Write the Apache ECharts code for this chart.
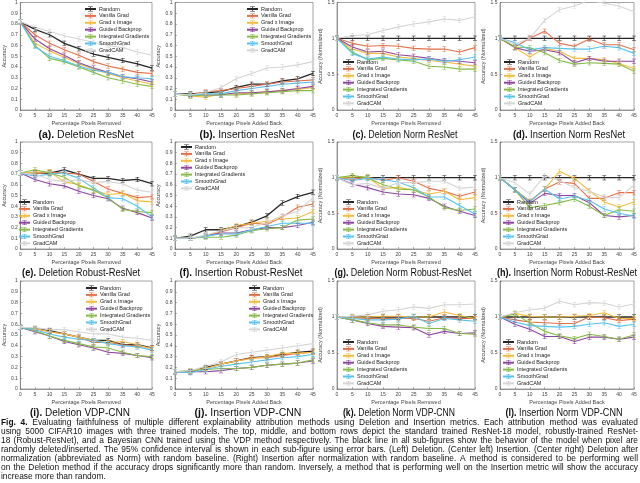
<!DOCTYPE html>
<html>
<head>
<meta charset="utf-8">
<script src="https://cdn.jsdelivr.net/npm/echarts@6/dist/echarts.min.js"></script>
<style>html,body{margin:0;padding:0;background:#fff}#c{width:640px;height:483px}</style>
</head>
<body>
<div id="c"></div>
<script>
// ---------- data ----------
const xTicks = [0, 5, 10, 15, 20, 25, 30, 35, 40, 45];
const seriesNames = ['Random', 'Vanilla Grad', 'Grad x Image', 'Guided Backprop', 'Integrated Gradients', 'SmoothGrad', 'GradCAM'];

// order of rows in each panel follows seriesNames
const delResNet = [
  [0.82, 0.75, 0.70, 0.62, 0.57, 0.52, 0.49, 0.46, 0.43, 0.39],
  [0.82, 0.70, 0.62, 0.56, 0.51, 0.45, 0.41, 0.38, 0.35, 0.34],
  [0.82, 0.62, 0.55, 0.49, 0.43, 0.38, 0.34, 0.30, 0.27, 0.24],
  [0.82, 0.66, 0.57, 0.51, 0.44, 0.39, 0.35, 0.31, 0.29, 0.26],
  [0.82, 0.60, 0.48, 0.45, 0.40, 0.35, 0.30, 0.27, 0.24, 0.22],
  [0.82, 0.59, 0.50, 0.46, 0.41, 0.37, 0.35, 0.31, 0.30, 0.29],
  [0.82, 0.77, 0.73, 0.69, 0.66, 0.63, 0.60, 0.58, 0.54, 0.51]
];
const insResNet = [
  [0.15, 0.15, 0.16, 0.17, 0.21, 0.24, 0.24, 0.27, 0.29, 0.34],
  [0.15, 0.14, 0.17, 0.18, 0.20, 0.22, 0.24, 0.26, 0.27, 0.28],
  [0.15, 0.13, 0.12, 0.15, 0.15, 0.16, 0.17, 0.18, 0.19, 0.21],
  [0.15, 0.14, 0.14, 0.14, 0.16, 0.16, 0.17, 0.18, 0.20, 0.22],
  [0.15, 0.13, 0.14, 0.14, 0.14, 0.15, 0.16, 0.17, 0.18, 0.18],
  [0.15, 0.14, 0.15, 0.15, 0.18, 0.20, 0.22, 0.24, 0.25, 0.26],
  [0.15, 0.14, 0.16, 0.21, 0.29, 0.34, 0.39, 0.40, 0.42, 0.45]
];
const delNormResNet = [
  [1, 1, 1, 1, 1, 1, 1, 1, 1, 1],
  [1, 0.93, 0.89, 0.90, 0.89, 0.86, 0.85, 0.85, 0.81, 0.87],
  [1, 0.85, 0.79, 0.79, 0.74, 0.72, 0.69, 0.67, 0.64, 0.61],
  [1, 0.88, 0.81, 0.82, 0.77, 0.75, 0.72, 0.69, 0.68, 0.66],
  [1, 0.81, 0.70, 0.72, 0.70, 0.68, 0.61, 0.60, 0.57, 0.57],
  [1, 0.79, 0.71, 0.74, 0.71, 0.70, 0.71, 0.68, 0.70, 0.74],
  [1, 1.04, 1.05, 1.11, 1.16, 1.20, 1.23, 1.27, 1.25, 1.30]
];
const insNormResNet = [
  [1, 1, 1, 1, 1, 1, 1, 1, 1, 1],
  [1, 0.88, 1.00, 1.10, 0.93, 0.89, 0.99, 0.91, 0.91, 0.84],
  [1, 0.87, 0.74, 0.86, 0.82, 0.72, 0.72, 0.70, 0.65, 0.58],
  [1, 0.87, 0.82, 0.84, 0.80, 0.66, 0.72, 0.68, 0.68, 0.68],
  [1, 0.88, 0.87, 0.80, 0.69, 0.64, 0.66, 0.65, 0.64, 0.54],
  [1, 0.94, 0.84, 0.87, 0.86, 0.85, 0.85, 0.89, 0.87, 0.79],
  [1, 0.92, 1.00, 1.25, 1.40, 1.45, 1.53, 1.49, 1.45, 1.37]
];
const delRobust = [
  [0.71, 0.71, 0.71, 0.74, 0.70, 0.66, 0.66, 0.64, 0.65, 0.61],
  [0.71, 0.70, 0.72, 0.71, 0.70, 0.63, 0.56, 0.52, 0.48, 0.49],
  [0.71, 0.72, 0.72, 0.63, 0.60, 0.55, 0.51, 0.52, 0.45, 0.44],
  [0.71, 0.65, 0.61, 0.59, 0.54, 0.50, 0.47, 0.38, 0.34, 0.29],
  [0.71, 0.74, 0.71, 0.67, 0.59, 0.55, 0.48, 0.37, 0.35, 0.34],
  [0.71, 0.68, 0.70, 0.71, 0.66, 0.57, 0.48, 0.47, 0.40, 0.30],
  [0.71, 0.70, 0.65, 0.63, 0.65, 0.62, 0.63, 0.61, 0.55, 0.53]
];
const insRobust = [
  [0.10, 0.12, 0.18, 0.18, 0.21, 0.25, 0.31, 0.43, 0.49, 0.53],
  [0.10, 0.10, 0.12, 0.16, 0.20, 0.24, 0.23, 0.30, 0.39, 0.42],
  [0.10, 0.10, 0.12, 0.17, 0.22, 0.24, 0.26, 0.28, 0.29, 0.35],
  [0.10, 0.10, 0.12, 0.15, 0.15, 0.18, 0.20, 0.20, 0.22, 0.25],
  [0.10, 0.10, 0.11, 0.11, 0.13, 0.17, 0.19, 0.20, 0.27, 0.28],
  [0.10, 0.10, 0.12, 0.14, 0.14, 0.18, 0.21, 0.24, 0.24, 0.24],
  [0.10, 0.10, 0.13, 0.17, 0.20, 0.20, 0.25, 0.31, 0.35, 0.48]
];
const delNormRobust = [
  [1, 1, 1, 1, 1, 1, 1, 1, 1, 1],
  [1, 0.97, 1.01, 0.96, 1.00, 0.95, 0.85, 0.81, 0.74, 0.80],
  [1, 1.01, 1.01, 0.85, 0.86, 0.83, 0.77, 0.81, 0.69, 0.72],
  [1, 0.91, 0.86, 0.80, 0.77, 0.76, 0.71, 0.60, 0.53, 0.47],
  [1, 1.03, 1.00, 0.90, 0.84, 0.83, 0.73, 0.58, 0.54, 0.56],
  [1, 0.96, 0.99, 0.97, 0.94, 0.86, 0.73, 0.73, 0.61, 0.49],
  [1, 0.90, 0.92, 0.85, 0.93, 0.93, 0.95, 0.95, 0.85, 0.87]
];
const insNormRobust = [
  [1, 1, 1, 1, 1, 1, 1, 1, 1, 1],
  [1, 0.83, 0.67, 0.84, 0.94, 0.92, 0.71, 0.71, 0.79, 0.79],
  [1, 0.83, 0.67, 0.84, 1.09, 0.99, 0.82, 0.66, 0.59, 0.66],
  [1, 0.83, 0.64, 0.78, 0.75, 0.75, 0.65, 0.47, 0.45, 0.47],
  [1, 0.83, 0.58, 0.61, 0.65, 0.70, 0.60, 0.47, 0.55, 0.53],
  [1, 0.83, 0.66, 0.84, 0.70, 0.74, 0.68, 0.56, 0.50, 0.46],
  [1, 0.93, 0.77, 1.03, 0.96, 0.86, 0.81, 0.73, 0.72, 0.90]
];
const delVDP = [
  [0.57, 0.56, 0.54, 0.51, 0.48, 0.45, 0.45, 0.41, 0.41, 0.38],
  [0.57, 0.56, 0.53, 0.51, 0.48, 0.43, 0.43, 0.41, 0.40, 0.38],
  [0.57, 0.56, 0.53, 0.51, 0.48, 0.45, 0.43, 0.44, 0.41, 0.37],
  [0.57, 0.53, 0.49, 0.44, 0.41, 0.38, 0.34, 0.33, 0.31, 0.29],
  [0.57, 0.54, 0.49, 0.45, 0.42, 0.39, 0.38, 0.34, 0.31, 0.30],
  [0.57, 0.55, 0.51, 0.48, 0.46, 0.45, 0.42, 0.40, 0.39, 0.36],
  [0.57, 0.57, 0.55, 0.55, 0.53, 0.51, 0.51, 0.48, 0.47, 0.45]
];
const insVDP = [
  [0.16, 0.16, 0.20, 0.23, 0.26, 0.29, 0.30, 0.32, 0.34, 0.35],
  [0.16, 0.16, 0.19, 0.23, 0.26, 0.29, 0.29, 0.31, 0.33, 0.34],
  [0.16, 0.17, 0.19, 0.23, 0.26, 0.28, 0.30, 0.33, 0.33, 0.34],
  [0.16, 0.16, 0.16, 0.17, 0.19, 0.20, 0.22, 0.23, 0.24, 0.26],
  [0.16, 0.17, 0.18, 0.19, 0.19, 0.20, 0.22, 0.23, 0.24, 0.27],
  [0.16, 0.15, 0.18, 0.21, 0.23, 0.25, 0.27, 0.29, 0.30, 0.32],
  [0.16, 0.17, 0.21, 0.25, 0.32, 0.34, 0.36, 0.38, 0.40, 0.42]
];
const delNormVDP = [
  [1, 1, 1, 1, 1, 1, 1, 1, 1, 1],
  [1, 0.99, 0.98, 0.98, 0.98, 0.98, 0.94, 0.99, 0.98, 0.98],
  [1, 1.00, 1.00, 1.01, 1.01, 1.00, 1.00, 1.07, 1.02, 0.98],
  [1, 0.96, 0.91, 0.87, 0.86, 0.85, 0.75, 0.80, 0.77, 0.78],
  [1, 0.96, 0.92, 0.89, 0.89, 0.86, 0.84, 0.84, 0.77, 0.76],
  [1, 0.98, 0.96, 0.96, 0.97, 1.01, 0.91, 0.98, 0.96, 0.94],
  [1, 1.01, 1.03, 1.08, 1.10, 1.14, 1.12, 1.17, 1.17, 1.18]
];
const insNormVDP = [
  [1, 1, 1, 1, 1, 1, 1, 1, 1, 1],
  [1, 0.96, 0.93, 0.92, 0.91, 0.91, 1.00, 0.99, 0.95, 0.97],
  [1, 1.05, 1.01, 1.00, 1.00, 1.01, 1.02, 1.06, 0.98, 0.98],
  [1, 0.90, 0.83, 0.73, 0.73, 0.66, 0.72, 0.72, 0.69, 0.72],
  [1, 1.04, 0.92, 0.80, 0.74, 0.70, 0.76, 0.73, 0.69, 0.75],
  [1, 0.93, 0.88, 0.87, 0.86, 0.87, 0.90, 0.92, 0.87, 0.90],
  [1, 1.06, 1.10, 1.12, 1.22, 1.17, 1.20, 1.19, 1.14, 1.18]
];

const subCaptionTags = ['(a).', '(b).', '(c).', '(d).', '(e).', '(f).', '(g).', '(h).', '(i).', '(j).', '(k).', '(l).'];
const subCaptionTexts = ['Deletion ResNet', 'Insertion ResNet', 'Deletion Norm ResNet', 'Insertion Norm ResNet',
  'Deletion Robust-ResNet', 'Insertion Robust-ResNet', 'Deletion Norm Robust-ResNet', 'Insertion Norm Robust-ResNet',
  'Deletion VDP-CNN', 'Insertion VDP-CNN', 'Deletion Norm VDP-CNN', 'Insertion Norm VDP-CNN'];
const xNames = ['Percentage Pixels Removed', 'Percentage Pixels Added Back'];
const yNames = ['Accuracy', 'Accuracy (Normalized)'];

const captionLines = [
  'Fig. 4. Evaluating faithfulness of multiple different explainability attribution methods using Deletion and Insertion metrics. Each attribution method was evaluated',
  'using 5000 CIFAR10 images with three trained models. The top, middle, and bottom rows depict the standard trained ResNet-18 model, robustly-trained ResNet-',
  '18 (Robust-ResNet), and a Bayesian CNN trained using the VDP method respectively. The black line in all sub-figures show the behavior of the model when pixel are',
  'randomly deleted/inserted. The 95% confidence interval is shown in each sub-figure using error bars. (Left) Deletion. (Center left) Insertion. (Center right) Deletion after',
  'normalization (abbreviated as Norm) with random baseline. (Right) Insertion after normalization with random baseline. A method is considered to be performing well',
  'on the Deletion method if the accuracy drops significantly more than random. Inversely, a method that is performing well on the Insertion metric will show the accuracy',
  'increase more than random.'
];

// ---------- layout / style ----------
const FONT = '"Liberation Sans", Arial, Helvetica, sans-serif';
const colors = ['#262626', '#e2704a', '#f2bd3f', '#8e44a0', '#86bb45', '#56c3ef', '#d4d4d4'];
const colX = [[13, 152], [175, 313], [337, 475], [500, 634]];
const rowY = [[2, 110], [142, 249], [281, 389]];
const panels = [delResNet, insResNet, delNormResNet, insNormResNet,
  delRobust, insRobust, delNormRobust, insNormRobust,
  delVDP, insVDP, delNormVDP, insNormVDP];
const legendPos = [[84, 6], [246, 6], [342, 59], [503, 59],
  [18, 199], [180, 144], [342, 199], [502, 199],
  [85, 285], [248, 285], [342, 339], [502, 339]];
const yNameGap = [9, 10, 12, 13];
const errSymbol = 'path://M0,0H6V1H3.5V9H6V10H0V9H2.5V1H0Z';

const grids = [], xAxes = [], yAxes = [], series = [], legends = [], graphics = [];
panels.forEach((pdata, p) => {
  const r = Math.floor(p / 4), c = p % 4;
  const isNorm = c >= 2, isIns = c % 2 === 1;
  grids.push({ left: colX[c][0], top: rowY[r][0], width: colX[c][1] - colX[c][0], height: rowY[r][1] - rowY[r][0],
    show: true, borderColor: '#6a6a6a', borderWidth: 0.6 });
  xAxes.push({ type: 'value', gridIndex: p, min: 0, max: 45, interval: 5,
    name: xNames[isIns ? 1 : 0], nameLocation: 'middle', nameGap: 10,
    nameTextStyle: { fontSize: 5.5, color: '#444', fontFamily: FONT },
    axisLine: { show: true, lineStyle: { color: '#6a6a6a', width: 0.6 } },
    axisTick: { show: true, inside: true, length: 2, lineStyle: { color: '#6a6a6a', width: 0.5 } },
    axisLabel: { fontSize: 5, color: '#444', margin: 3, fontFamily: FONT },
    splitLine: { show: false } });
  yAxes.push({ type: 'value', gridIndex: p, min: 0, max: isNorm ? 1.5 : 1, interval: isNorm ? 0.5 : 0.1,
    name: yNames[isNorm ? 1 : 0], nameLocation: 'middle', nameGap: yNameGap[c],
    nameTextStyle: { fontSize: 5.5, color: '#444', fontFamily: FONT },
    axisLine: { show: true, lineStyle: { color: '#6a6a6a', width: 0.6 } },
    axisTick: { show: true, inside: true, length: 2, lineStyle: { color: '#6a6a6a', width: 0.5 } },
    axisLabel: { fontSize: 5, color: '#444', margin: 2.5, fontFamily: FONT },
    splitLine: { show: false } });
  pdata.forEach((vals, s) => {
    series.push({ type: 'line', name: seriesNames[s], xAxisIndex: p, yAxisIndex: p,
      data: vals.map((v, i) => [xTicks[i], v]),
      symbol: errSymbol, symbolSize: [4, 5], showSymbol: true,
      lineStyle: { color: colors[s], width: s === 0 ? 1.3 : 1.1 },
      itemStyle: { color: colors[s] },
      clip: true, silent: true, animation: false });
  });
  legends.push({ left: legendPos[p][0], top: legendPos[p][1], orient: 'vertical', padding: 0,
    itemWidth: 11, itemHeight: 6, itemGap: 0.9, selectedMode: false,
    data: seriesNames.slice(),
    textStyle: { fontSize: 5.5, lineHeight: 6, color: '#222', fontFamily: FONT, padding: [0, 0, 0, -2] } });
});

// ---------- text measurement helpers ----------
const mctx = document.createElement('canvas').getContext('2d');
function tw(text, font) { mctx.font = font; return mctx.measureText(text).width; }

// sub-figure captions (each squeezed to its width in the reference)
const subCenters = [86, 247, 405, 569, 81, 241, 403, 567, 80, 248, 399, 564];
const subWidths = [97, 95, 105, 112, 118, 123, 137, 140, 100, 107, 112, 117];
const subY = [135, 273, 413];
const subFontN = '10px ' + FONT, subFontB = 'bold 10px ' + FONT;
subCaptionTags.forEach((tag, p) => {
  const r = Math.floor(p / 4);
  const rest = ' ' + subCaptionTexts[p];
  const w1 = tw(tag, subFontB), w2 = tw(rest, subFontN);
  const sx = Math.min(1.05, subWidths[p] / (w1 + w2));
  graphics.push({ type: 'group', x: subCenters[p] - (w1 + w2) * sx / 2, y: subY[r], scaleX: sx, silent: true,
    children: [
      { type: 'text', x: 0, y: 0, silent: true,
        style: { text: tag, font: subFontB, fill: '#111', textAlign: 'left', textVerticalAlign: 'middle' } },
      { type: 'text', x: w1, y: 0, silent: true,
        style: { text: rest, font: subFontN, fill: '#111', textAlign: 'left', textVerticalAlign: 'middle' } }
    ] });
});

// main caption, justified word by word
const capFontN = '8.4px ' + FONT, capFontB = 'bold 8.4px ' + FONT;
const capLeft = 1, capRight = 638, capTop = 423, capStep = 9;
captionLines.forEach((line, li) => {
  const words = line.split(' ');
  const fonts = words.map((w, wi) => (li === 0 && wi < 2) ? capFontB : capFontN);
  const widths = words.map((w, wi) => tw(w, fonts[wi]));
  const total = widths.reduce((a, b) => a + b, 0);
  const last = li === captionLines.length - 1;
  const gap = last ? tw(' ', capFontN) : (capRight - capLeft - total) / (words.length - 1);
  let x = capLeft;
  words.forEach((w, wi) => {
    graphics.push({ type: 'text', x: x, y: capTop + li * capStep, silent: true,
      style: { text: w, font: fonts[wi], fill: '#111', textAlign: 'left', textVerticalAlign: 'middle' } });
    x += widths[wi] + gap;
  });
});

const chart = echarts.init(document.getElementById('c'), null, { renderer: 'canvas' });
chart.setOption({
  backgroundColor: '#fff',
  animation: false,
  textStyle: { fontFamily: FONT },
  grid: grids, xAxis: xAxes, yAxis: yAxes, series: series, legend: legends,
  graphic: { elements: graphics }
});
</script>
</body>
</html>
